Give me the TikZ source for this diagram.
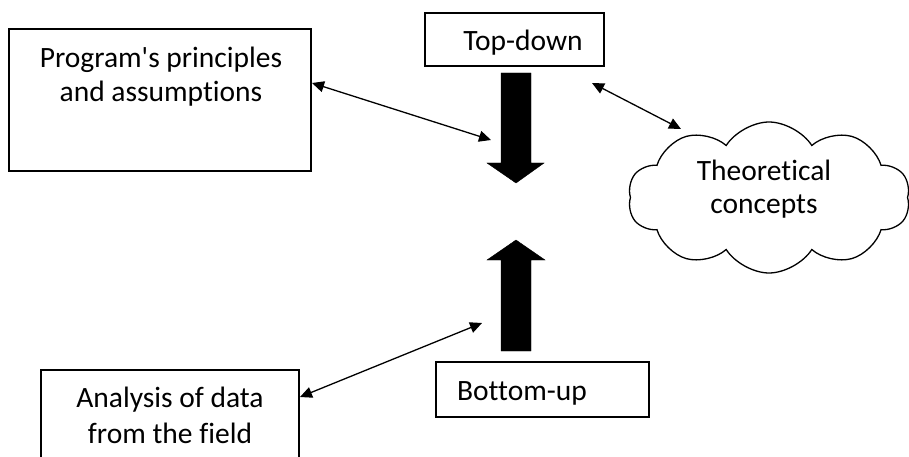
\documentclass[tikz,border=0pt]{standalone}
\usepackage{fontspec}
\newfontfamily\calfont{Carlito}[Ligatures=NoCommon]
\usetikzlibrary{shapes.symbols,arrows.meta}
\begin{document}
\begin{tikzpicture}[x=1pt,y=-1pt,
  box/.style={draw,line width=1.3pt,inner sep=0pt},
  txt/.style={font=\calfont\fontsize{29.5}{34}\selectfont,align=center,inner sep=0pt},
  dbl/.style={line width=1.3pt,{Triangle[length=12pt,width=11pt]}-{Triangle[length=12pt,width=11pt]}},
  blk/.style={fill=black,draw=black}]
\useasboundingbox (0,0) rectangle (909,457);
\clip (0,0) rectangle (909,457);
% boxes
\node[box,minimum width=302pt,minimum height=142pt] (prog) at (160,100) {};
\node[txt,anchor=base] (progt) at (161,68) {Program's principles};
\node[txt,anchor=base] (progt2) at (161,102) {and assumptions};
\node[box,minimum width=179pt,minimum height=53pt] (top) at (514.5,39.5) {};
\node[txt,anchor=base] (topt) at (523,51) {Top-down};
\node[box,minimum width=213pt,minimum height=55pt] (bot) at (542.5,389.5) {};
\node[txt,anchor=base] (bott) at (522,400) {Bottom-up};
\node[box,minimum width=258pt,minimum height=120pt] (ana) at (170,430) {};
\node[txt,anchor=base] (anat) at (170,407) {Analysis of data};
\node[txt,anchor=base] (anat2) at (170,443) {from the field};
\node[cloud,draw,line width=1.3pt,cloud puffs=10,cloud puff arc=115,aspect=1.9,
  minimum width=282pt,minimum height=151pt,inner sep=0pt] (cloud) at (769,197.5) {};
\node[txt,anchor=base] (cl1) at (764,180) {Theoretical};
\node[txt,anchor=base] (cl2) at (764,213) {concepts};
% block arrows
\fill[blk] (501,73) -- (531,73) -- (531,163) -- (544,163) -- (516,183) -- (487,163) -- (501,163) -- cycle;
\fill[blk] (501,351) -- (531,351) -- (531,260) -- (545,260) -- (516,240) -- (487,260) -- (501,260) -- cycle;
% connector ends
\coordinate (a1) at (312,83);
\coordinate (a2) at (491,140);
\coordinate (b1) at (592,83);
\coordinate (b2) at (681,129);
\coordinate (c1) at (482,323);
\coordinate (c2) at (300,397);
\draw[dbl] (a1) -- (a2);
\draw[dbl] (b1) -- (b2);
\draw[dbl] (c1) -- (c2);
\end{tikzpicture}
\end{document}
